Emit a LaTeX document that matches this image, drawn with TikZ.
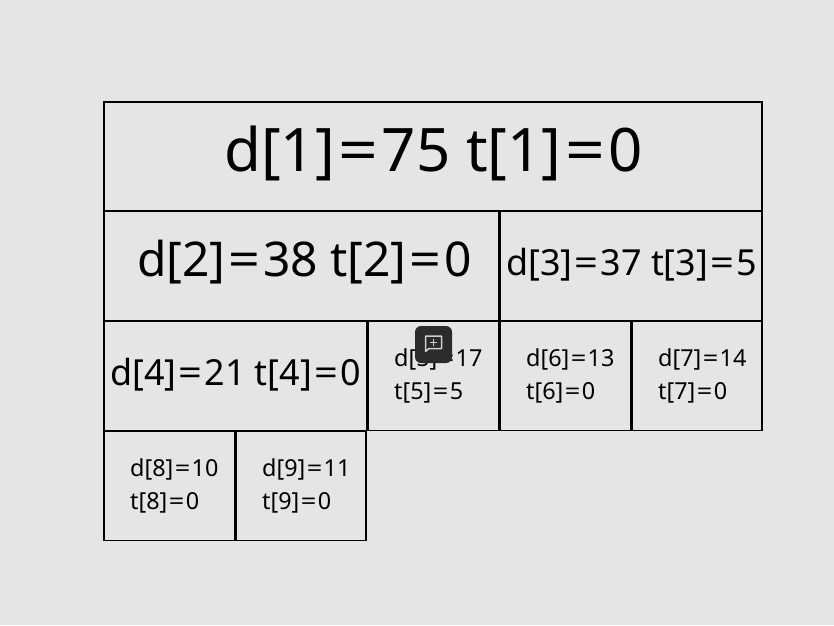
\documentclass[tikz,border=0pt]{standalone}
\usepackage{fontspec}
\setmainfont{Noto Sans}
\tikzset{
  cell/.style={draw=black,line width=1.3pt,fill=bgc,anchor=north west,inner sep=0pt,outer sep=0pt},
  big/.style={font=\fontsize{60}{62}\selectfont,inner sep=0pt},
  mid/.style={font=\fontsize{47.9}{50}\selectfont,inner sep=0pt},
  lab/.style={font=\fontsize{35.9}{38}\selectfont,inner sep=0pt},
  small/.style={font=\fontsize{23.4}{33}\selectfont,align=left,anchor=north west,inner sep=0pt},
}
\definecolor{bgc}{HTML}{E5E5E5}
\definecolor{btn}{HTML}{2B2B2B}
\definecolor{ico}{HTML}{D0D0D0}
\newcommand{\cellbox}[5]{\node[cell,minimum width=#4pt,minimum height=#5pt] (#1) at (#2,#3) {};}
\newcommand{\eqq}{\kern.06em\scalebox{1.16}[1]{=}\kern.06em}
\begin{document}
\begin{tikzpicture}[x=1pt,y=-1pt]
\useasboundingbox[fill=bgc] (0,0) rectangle (834,625);
\cellbox{a1}{104}{102}{658}{108.2}
\cellbox{a2}{104}{211.4}{394.7}{108.8}
\cellbox{a3}{500}{211.4}{262}{108.8}
\cellbox{a4}{104}{321.4}{262.7}{108.8}
\cellbox{a5}{368}{321.4}{130.7}{108.8}
\cellbox{a6}{500}{321.4}{130.7}{108.8}
\cellbox{a7}{632}{321.4}{130}{108.8}
\cellbox{a8}{104}{431.4}{130.7}{108.8}
\cellbox{a9}{236}{431.4}{130}{108.8}
\node[big] (t1) at (433.5,153) {d[1]\eqq 75 t[1]\eqq 0};
\node[mid] (t2) at (304.5,262) {d[2]\eqq 38 t[2]\eqq 0};
\node[lab] (t3) at (631.5,264.5) {d[3]\eqq 37 t[3]\eqq 5};
\node[lab] (t4) at (235.5,374.5) {d[4]\eqq 21 t[4]\eqq 0};
\node[small] (t5) at (394,349) {d[5]\eqq 17\\t[5]\eqq 5};
\node[small] (t6) at (526,349) {d[6]\eqq 13\\t[6]\eqq 0};
\node[small] (t7) at (658,349) {d[7]\eqq 14\\t[7]\eqq 0};
\node[small] (t8) at (130,459) {d[8]\eqq 10\\t[8]\eqq 0};
\node[small] (t9) at (262,459) {d[9]\eqq 11\\t[9]\eqq 0};
% floating button over the cell
\fill[btn,rounded corners=6pt] (415,326) rectangle (452,363);
\draw[ico,line width=1.5pt,line join=round] (425.5,336) -- (441.5,336) -- (441.5,348.5) -- (429,348.5) -- (425.5,351.5) -- cycle;
\draw[ico,line width=1.6pt] (430,342.3) -- (437,342.3) (433.5,339) -- (433.5,345.6);
\end{tikzpicture}
\end{document}
